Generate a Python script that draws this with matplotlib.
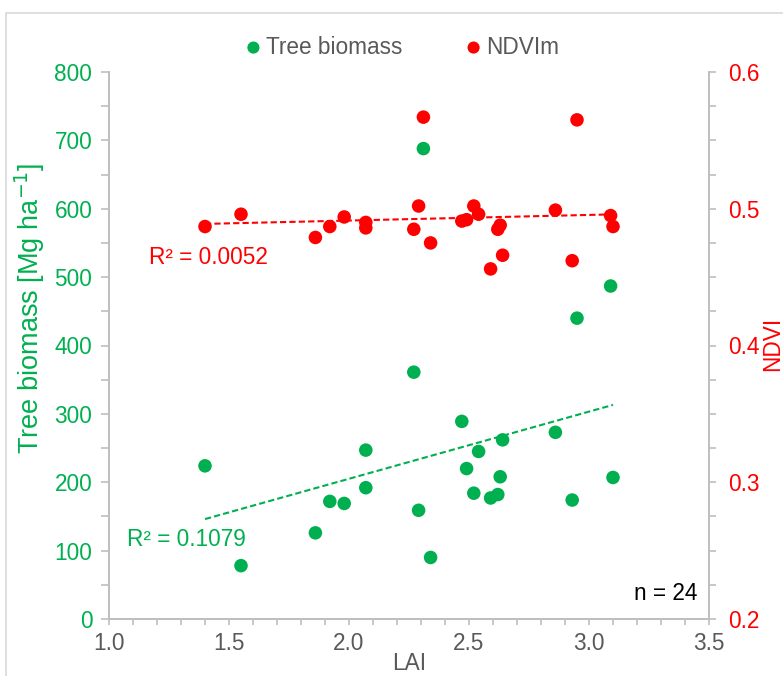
import numpy as np
import matplotlib
matplotlib.use("Agg")
import matplotlib.pyplot as plt
from matplotlib.patches import Rectangle
from matplotlib.ticker import MultipleLocator, FormatStrFormatter

# ---- data ----
lai = [1.40, 1.55, 1.86, 1.92, 1.98, 2.07, 2.07, 2.27, 2.29, 2.31, 2.34, 2.47,
       2.49, 2.52, 2.54, 2.59, 2.62, 2.63, 2.64, 2.86, 2.93, 2.95, 3.09, 3.10]
biomass = [224, 78, 126, 172, 169, 247, 192, 361, 159, 688, 90, 289,
           220, 184, 245, 177, 182, 208, 262, 273, 174, 440, 487, 207]
ndvi = [0.487, 0.496, 0.479, 0.487, 0.494, 0.490, 0.486, 0.485, 0.502, 0.567, 0.475, 0.491,
        0.492, 0.502, 0.496, 0.456, 0.485, 0.488, 0.466, 0.499, 0.462, 0.565, 0.495, 0.487]
legend_labels = ["Tree biomass", "NDVIm"]
r2_biomass = "R² = 0.1079"
r2_ndvi = "R² = 0.0052"
n_text = "n = 24"

GREEN = "#00B050"
RED = "#FF0000"
GRAY = "#595959"
SPINE = "#BFBFBF"
FS = 16.3

plt.rcParams['font.family'] = ['Liberation Sans', 'DejaVu Sans']

W, H = 783, 676
fig = plt.figure(figsize=(W / 100, H / 100), dpi=100)
ax = fig.add_axes([109 / W, 1 - 619 / H, 600 / W, 547 / H])
ax2 = ax.twinx()

# frame around chart
fig.patches.append(Rectangle((6 / W, -0.1), 1.2, (1 - 13 / H) + 0.1,
                             transform=fig.transFigure, fill=False,
                             edgecolor="#D9D9D9", linewidth=1.2, clip_on=False))

x = np.array(lai)
yb = np.array(biomass)
yn = np.array(ndvi)

ms = 95
ax.scatter(x, yb, s=ms, color=GREEN, edgecolors='none', zorder=3)
ax2.scatter(x, yn, s=ms, color=RED, edgecolors='none', zorder=3)

# linear trend lines
xx = np.array([x.min(), x.max()])
pb = np.polyfit(x, yb, 1)
pn = np.polyfit(x, yn, 1)
ax.plot(xx, np.polyval(pb, xx), color=GREEN, linestyle=(0, (3, 1.5)), linewidth=1.5, zorder=2)
ax2.plot(xx, np.polyval(pn, xx), color=RED, linestyle=(0, (3, 1.5)), linewidth=1.5, zorder=2)

ax.set_xlim(1.0, 3.5)
ax.set_ylim(0, 800)
ax2.set_ylim(0.2, 0.6)

ax.xaxis.set_major_locator(MultipleLocator(0.5))
ax.xaxis.set_minor_locator(MultipleLocator(0.1))
ax.yaxis.set_major_locator(MultipleLocator(100))
ax.yaxis.set_minor_locator(MultipleLocator(50))
ax2.yaxis.set_major_locator(MultipleLocator(0.1))
ax2.yaxis.set_minor_locator(MultipleLocator(0.025))
ax.xaxis.set_major_formatter(FormatStrFormatter('%.1f'))
ax2.yaxis.set_major_formatter(FormatStrFormatter('%.1f'))

for a in (ax, ax2):
    for s in a.spines.values():
        s.set_color(SPINE)
        s.set_linewidth(1.3)
    a.spines['top'].set_visible(False)

ax.tick_params(axis='x', which='both', direction='out', length=4, width=1.2,
               color=SPINE, labelcolor=GRAY, labelsize=FS, pad=5)
ax.tick_params(axis='y', which='both', direction='out', length=6, width=1.2,
               color=SPINE, labelcolor=GREEN, labelsize=FS, pad=6)
ax2.tick_params(axis='y', which='both', direction='out', length=5, width=1.2,
                color=SPINE, labelcolor=RED, labelsize=FS, pad=9)

# axis labels placed like the reference
fig.text(30 / W, 1 - 308 / H, "Tree biomass [Mg ha$^{-1}$]", rotation=90,
         color=GREEN, fontsize=19.5, ha='center', va='center')
fig.text(773 / W, 1 - 344 / H, "NDVI", rotation=90, color=RED, fontsize=FS,
         ha='center', va='center')
fig.text(409 / W, 1 - 675 / H, "LAI", color=GRAY, fontsize=FS, ha='center', va='bottom')

# annotations
fig.text(149 / W, 1 - 257 / H, r2_ndvi, color=RED, fontsize=FS, ha='left', va='center')
fig.text(127 / W, 1 - 540 / H, r2_biomass, color=GREEN, fontsize=FS, ha='left', va='center')
fig.text(697 / W, 1 - 594 / H, n_text, color='black', fontsize=FS, ha='right', va='center')

# legend
h1 = ax.scatter([], [], s=ms * 0.8, color=GREEN, edgecolors='none')
h2 = ax.scatter([], [], s=ms * 0.8, color=RED, edgecolors='none')
leg = fig.legend([h1, h2], legend_labels, loc='center', bbox_to_anchor=(400 / W, 1 - 47 / H),
                 ncol=2, frameon=False, fontsize=FS, handletextpad=0.0,
                 columnspacing=2.6, handlelength=1.1, borderaxespad=0)
for t in leg.get_texts():
    t.set_color(GRAY)

fig.savefig("out.png", dpi=100)
